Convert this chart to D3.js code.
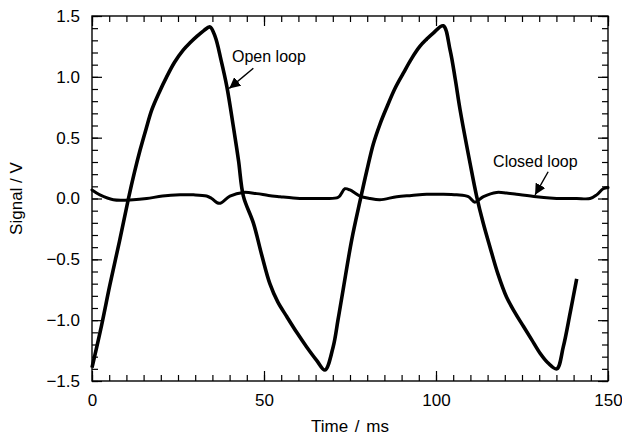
<!DOCTYPE html>
<html>
<head>
<meta charset="utf-8">
<script src="https://cdn.jsdelivr.net/npm/d3@7"></script>
<style>
  html, body { margin: 0; padding: 0; background: #fff; }
  svg { display: block; }
  text { font-family: "Liberation Sans", Arial, Helvetica, sans-serif; fill: #000; }
</style>
</head>
<body>
<svg id="chart" width="622" height="438"></svg>
<script>
// ---- data ----
const openTime = [0, 2.8, 5.2, 8, 10.6, 12.3, 14.0, 15.7, 17.4, 19.5, 21.7, 24.0, 26.5, 28.5, 30.4, 32.5, 34.3, 35.8, 37.5, 39.2, 41.1, 42.6, 44.0,
  46.9, 49.3, 51.7, 54.0, 56.6, 59.5, 62.4, 65.3, 67.7, 70.1, 71.5, 73.0, 75.5, 78.0, 79.9, 81.8, 83.7, 85.7, 88.0, 90.5, 92.9, 95.3, 97.3, 99.2, 102.1,
  104.1, 105.6, 107.0, 109.9, 111.8, 113.7, 115.7, 118.0, 120.5, 123.0, 125.4, 127.8, 130.2, 132.5, 135.1, 137.0, 139.0, 140.9];
const openSignal = [-1.39, -1.04, -0.71, -0.35, 0.0, 0.21, 0.40, 0.57, 0.73, 0.87, 1.00, 1.12, 1.22, 1.28, 1.33, 1.38, 1.41, 1.33, 1.14, 0.92, 0.59, 0.31, 0.02,
  -0.20, -0.46, -0.70, -0.85, -0.97, -1.10, -1.22, -1.33, -1.41, -1.22, -1.00, -0.75, -0.34, -0.01, 0.23, 0.45, 0.61, 0.75, 0.90, 1.03, 1.15, 1.25, 1.31, 1.36, 1.42,
  1.22, 0.98, 0.73, 0.29, 0.02, -0.20, -0.40, -0.62, -0.81, -0.94, -1.05, -1.16, -1.27, -1.35, -1.40, -1.22, -0.94, -0.66];

const closedTime = [0, 2.3, 6.2, 12, 15.9, 20.5, 25.6, 29.5, 33.3, 34.8, 37.0, 40.1, 44.0, 47.9, 51.3, 54.7, 58.5, 62.4, 67.0, 71.6, 73.5, 75.0,
  77.9, 80.8, 83.7, 88.6, 92.9, 97.3, 101.6, 106, 109.4, 111.3, 113.8, 117.6, 120.5, 123.4, 129.2, 133.1, 137, 140.9, 144.8, 146.7, 148.6, 150];
const closedSignal = [0.07, 0.03, -0.01, -0.01, 0.0, 0.02, 0.03, 0.03, 0.02, 0.0, -0.04, 0.02, 0.05, 0.04, 0.025, 0.015, 0.005, 0.0, 0.0, 0.01, 0.08, 0.07,
  0.02, 0.0, -0.01, 0.015, 0.025, 0.035, 0.035, 0.03, 0.015, -0.03, 0.015, 0.05, 0.045, 0.035, 0.015, 0.005, 0.0, 0.0, 0.0, 0.03, 0.08, 0.09];

const xTickLabels = [0, 50, 100, 150];
const yTickLabels = [-1.5, -1.0, -0.5, 0.0, 0.5, 1.0, 1.5];
const xMinorTicks = d3.range(0, 150.01, 5);
const yMinorTicks = d3.range(-15, 15.01, 1).map(d => d / 10);

const annotations = [
  { label: "Open loop", textT: 40.7, textV: 1.12, fromT: 46.9, fromV: 1.07, toT: 39.9, toV: 0.905 },
  { label: "Closed loop", textT: 116.6, textV: 0.26, fromT: 132.6, fromV: 0.22, toT: 128.8, toV: 0.03 }
];

// ---- layout ----
const svg = d3.select("#chart");
const mLeft = 92, mRight = 608, mTop = 16, mBottom = 381;
const x = d3.scaleLinear().domain([0, 150]).range([mLeft, mRight]);
const y = d3.scaleLinear().domain([-1.5, 1.5]).range([mBottom, mTop]);
const fontSize = 17;

svg.append("rect").attr("width", 622).attr("height", 438).attr("fill", "#fff");

function styleAxis(g) {
  g.select(".domain").remove();
  g.selectAll("line").attr("stroke", "#000").attr("stroke-width", 1.2);
  g.selectAll("text").attr("font-size", fontSize).attr("font-family", "Liberation Sans, Arial, sans-serif");
}

// bottom
svg.append("g").attr("transform", `translate(0,${mBottom})`)
  .call(d3.axisBottom(x).tickValues(xMinorTicks).tickSize(-6).tickFormat(""))
  .call(styleAxis);
svg.append("g").attr("transform", `translate(0,${mBottom})`)
  .call(d3.axisBottom(x).tickValues(xTickLabels).tickSize(-10).tickPadding(12.5).tickFormat(d3.format("d")))
  .call(styleAxis);
// top
svg.append("g").attr("transform", `translate(0,${mTop})`)
  .call(d3.axisTop(x).tickValues(xMinorTicks).tickSize(-6).tickFormat(""))
  .call(styleAxis);
svg.append("g").attr("transform", `translate(0,${mTop})`)
  .call(d3.axisTop(x).tickValues(xTickLabels).tickSize(-10).tickFormat(""))
  .call(styleAxis);
// left
svg.append("g").attr("transform", `translate(${mLeft},0)`)
  .call(d3.axisLeft(y).tickValues(yMinorTicks).tickSize(-6).tickFormat(""))
  .call(styleAxis);
svg.append("g").attr("transform", `translate(${mLeft},0)`)
  .call(d3.axisLeft(y).tickValues(yTickLabels).tickSize(-10).tickPadding(12).tickFormat(d3.format(".1f")))
  .call(styleAxis);
// right
svg.append("g").attr("transform", `translate(${mRight},0)`)
  .call(d3.axisRight(y).tickValues(yMinorTicks).tickSize(-6).tickFormat(""))
  .call(styleAxis);
svg.append("g").attr("transform", `translate(${mRight},0)`)
  .call(d3.axisRight(y).tickValues(yTickLabels).tickSize(-10).tickFormat(""))
  .call(styleAxis);

// frame
svg.append("rect")
  .attr("x", mLeft).attr("y", mTop)
  .attr("width", mRight - mLeft).attr("height", mBottom - mTop)
  .attr("fill", "none").attr("stroke", "#000").attr("stroke-width", 1.4);

// axis titles
svg.append("text")
  .attr("x", (mLeft + mRight) / 2).attr("y", 432)
  .attr("text-anchor", "middle").attr("font-size", fontSize)
  .attr("word-spacing", 2)
  .text("Time / ms");
svg.append("text")
  .attr("transform", `translate(22,${(mTop + mBottom) / 2}) rotate(-90)`)
  .attr("text-anchor", "middle").attr("font-size", fontSize)
  .text("Signal / V");

// curves
const line = d3.line().x(d => x(d[0])).y(d => y(d[1])).curve(d3.curveCatmullRom.alpha(0.5));
const closedData = closedTime.map((t, i) => [t, closedSignal[i]]);
const openData = openTime.map((t, i) => [t, openSignal[i]]);

svg.append("path").datum(closedData)
  .attr("d", line).attr("fill", "none").attr("stroke", "#000")
  .attr("stroke-width", 3).attr("stroke-linejoin", "round").attr("stroke-linecap", "round");
svg.append("path").datum(openData)
  .attr("d", line).attr("fill", "none").attr("stroke", "#000")
  .attr("stroke-width", 3.6).attr("stroke-linejoin", "round").attr("stroke-linecap", "butt");

// annotations
svg.append("defs").append("marker")
  .attr("id", "arrow").attr("viewBox", "0 0 10 10")
  .attr("refX", 10).attr("refY", 5)
  .attr("markerWidth", 11).attr("markerHeight", 11)
  .attr("markerUnits", "userSpaceOnUse")
  .attr("orient", "auto")
  .append("path").attr("d", "M0,0 L10,5 L0,10 z").attr("fill", "#000");

annotations.forEach(a => {
  svg.append("text")
    .attr("x", x(a.textT)).attr("y", y(a.textV))
    .attr("font-size", fontSize - 1)
    .text(a.label);
  svg.append("line")
    .attr("x1", x(a.fromT)).attr("y1", y(a.fromV))
    .attr("x2", x(a.toT)).attr("y2", y(a.toV))
    .attr("stroke", "#000").attr("stroke-width", 1.4)
    .attr("marker-end", "url(#arrow)");
});
</script>
</body>
</html>
